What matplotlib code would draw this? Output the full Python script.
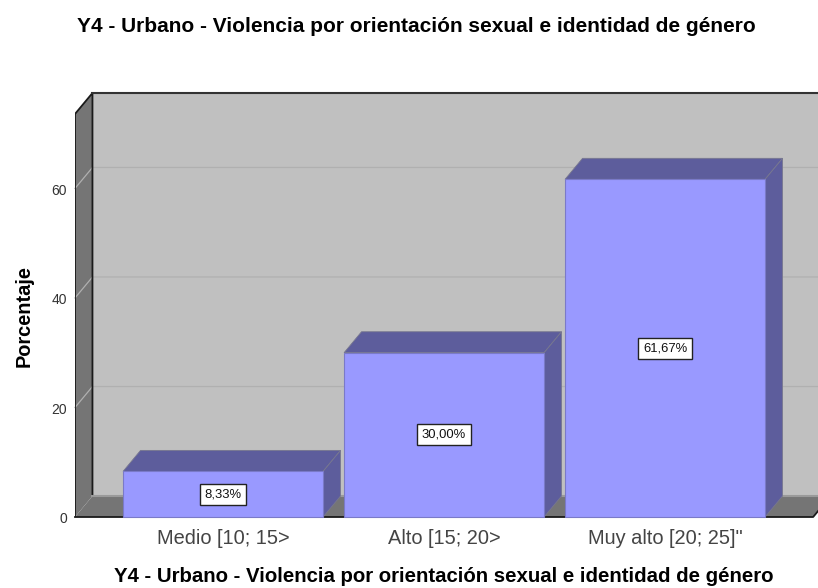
import matplotlib
matplotlib.use('Agg')
import matplotlib.pyplot as plt
from matplotlib.patches import Polygon

# Data
categories = ['Medio [10; 15>', 'Alto [15; 20>', 'Muy alto [20; 25]"']
percentages = [8.33, 30.00, 61.67]
value_labels = ['8,33%', '30,00%', '61,67%']
y_ticks = [0, 20, 40, 60]
title = 'Y4 - Urbano - Violencia por orientación sexual e identidad de género'

W, H = 818, 588
plt.rcParams['font.family'] = ['Liberation Sans', 'DejaVu Sans']

fig = plt.figure(figsize=(W / 100, H / 100), dpi=100, facecolor='white')
ax = fig.add_axes([75 / W, (H - 517) / H, 743 / W, 424 / H])
ax.set_xlim(-0.67, 2.692)
ax.set_ylim(0, 77.43)
ax.axis('off')

# depth of the fake 3D box, in data units
dx = 0.079
dy = 3.83
bar_w = 0.905
x0, x1 = -0.67, 2.67
top = 73.6


def poly(pts, **kw):
    ax.add_patch(Polygon(pts, closed=True, clip_on=False, **kw))


# back wall, left wall, floor
poly([(x0 + dx, dy), (x1 + dx, dy), (x1 + dx, top + dy), (x0 + dx, top + dy)],
     facecolor='#c0c0c0', edgecolor='none', zorder=1)
poly([(x0, 0), (x0 + dx, dy), (x0 + dx, top + dy), (x0, top)],
     facecolor='#757575', edgecolor='none', zorder=1)
poly([(x0, 0), (x1, 0), (x1 + dx, dy), (x0 + dx, dy)],
     facecolor='#757575', edgecolor='none', zorder=1)

# gridlines on the back wall and wrapped on the left wall
for v in y_ticks[1:]:
    ax.plot([x0, x0 + dx, x1 + dx], [v, v + dy, v + dy], color='#b0b0b0',
            lw=0.9, zorder=2, clip_on=False)

# box outlines
ax.plot([x0, x0 + dx, x0 + dx], [top, top + dy, dy], color='#1a1a1a', lw=1.3, zorder=3)
ax.plot([x0, x0], [0, top], color='#1a1a1a', lw=1.3, zorder=3)
ax.plot([x0 + dx, x1 + dx], [top + dy, top + dy], color='#333333', lw=1.5, zorder=3, clip_on=False)
ax.plot([x0 + dx, x1 + dx], [dy, dy], color='#9a9a9a', lw=1.5, zorder=3, clip_on=False)
ax.plot([x0, x1, x1 + dx], [0, 0, dy], color='#1a1a1a', lw=1.3, zorder=3, clip_on=False)

# bars
side = '#5d5d9c'
for i, (v, lab) in enumerate(zip(percentages, value_labels)):
    l, r = i - bar_w / 2, i + bar_w / 2
    poly([(l, v), (r, v), (r + dx, v + dy), (l + dx, v + dy)],
         facecolor=side, edgecolor='#77778f', lw=0.6, zorder=4)
    poly([(r, 0), (r + dx, dy), (r + dx, v + dy), (r, v)],
         facecolor=side, edgecolor='#77778f', lw=0.6, zorder=4)
    poly([(l, 0), (r, 0), (r, v), (l, v)],
         facecolor='#9999ff', edgecolor='#7a7ac8', lw=0.8, zorder=5)
    ax.text(i, v / 2, lab, ha='center', va='center', fontsize=9.4, color='#111111', zorder=6,
            bbox=dict(boxstyle='square,pad=0.35', facecolor='white', edgecolor='#222222', lw=1))
    ax.text(i, -3.9, categories[i], ha='center', va='center', fontsize=14.4, color='#444444',
            clip_on=False)

# y tick labels
for v in y_ticks:
    ax.text(x0 - 0.036, v - 0.45, str(v), ha='right', va='center', fontsize=10, color='#333333')

fig.text(24 / W, 1 - 316 / H, 'Porcentaje', rotation=90, ha='center', va='center',
         fontsize=14.4, fontweight='bold', color='black')
fig.text(416 / W, 1 - 27 / H, title, ha='center', va='center', fontsize=15,
         fontweight='bold', color='black')
fig.text(443.5 / W, 1 - 577 / H, title, ha='center', va='center', fontsize=14.7,
         fontweight='bold', color='black')

fig.savefig('out.png', dpi=100)
